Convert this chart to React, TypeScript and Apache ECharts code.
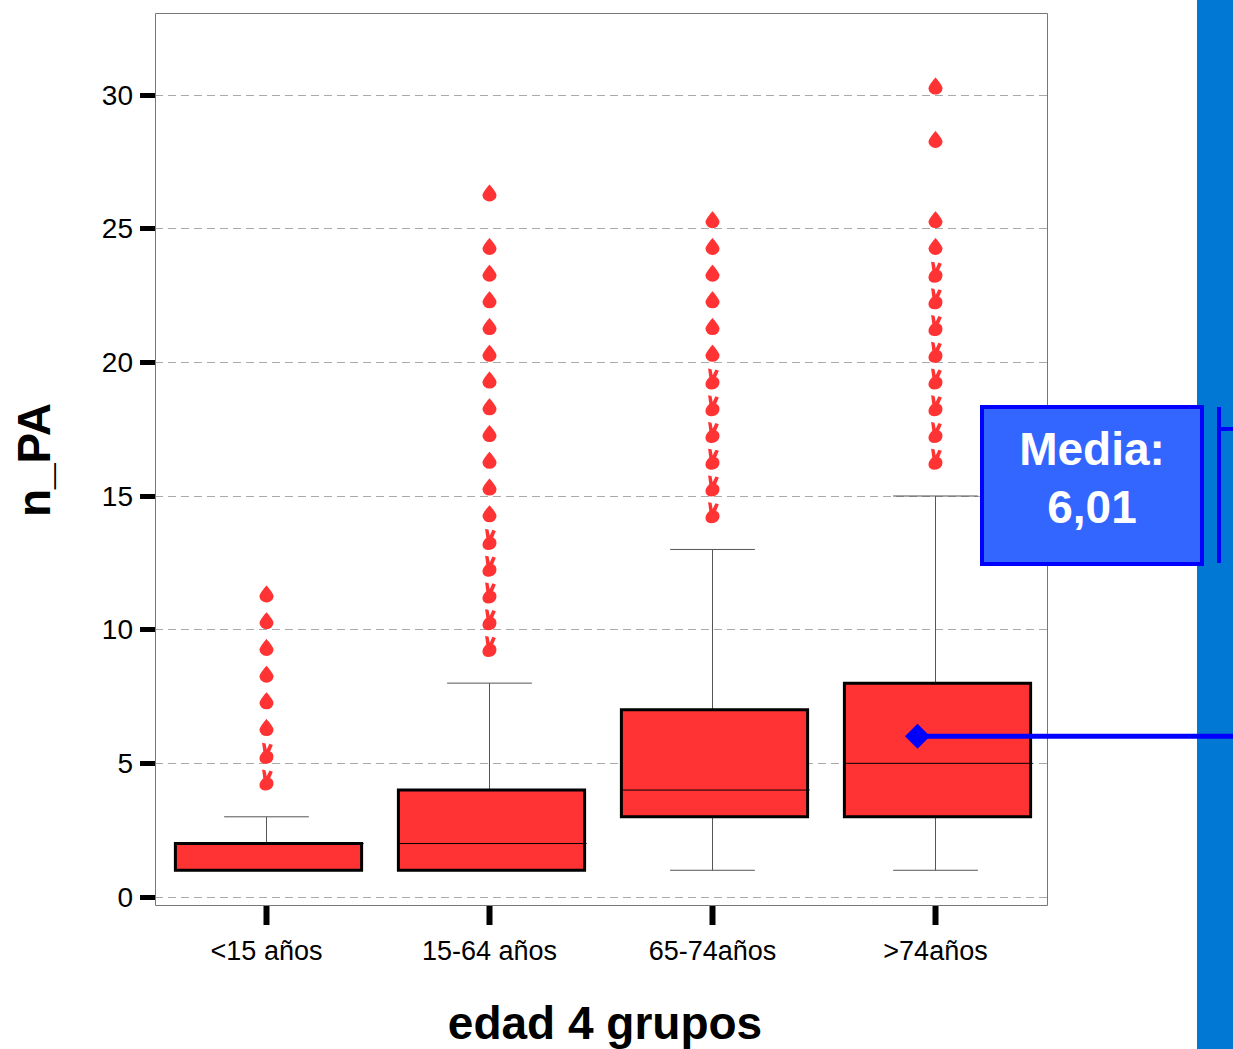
import React, { useEffect, useRef } from "react";
import * as echarts from "echarts";

const categories = ["<15 años", "15-64 años", "65-74años", ">74años"];
const whiskerLow = [1, 1, 1, 1];
const q1 = [1, 1, 3, 3];
const median = [2, 2, 4, 5];
const q3 = [2, 4, 7, 8];
const whiskerHigh = [3, 8, 13, 15];

// outliers drawn as drops (per category)
const dropOutliers = [
  [6, 7, 8, 9, 10, 11],
  [14, 15, 16, 17, 18, 19, 20, 21, 22, 23, 24, 26],
  [20, 21, 22, 23, 24, 25],
  [24, 25, 28, 30],
];
// outliers drawn as hand glyphs (per category)
const handOutliers = [
  [4, 5],
  [9, 10, 11, 12, 13],
  [14, 15, 16, 17, 18, 19],
  [16, 17, 18, 19, 20, 21, 22, 23],
];

const meanCategory = 3;
const meanValue = 6.01;
const meanLabel = "Media:\n6,01";

const yMin = 0;
const yMax = 30;
const yInterval = 5;

const xAxisTitle = "edad 4 grupos";
const yAxisTitle = "n_PA";

const FONT = 'Arial, "Liberation Sans", sans-serif';
const RED = "#FF3333";
const BLUE = "#0000FF";

const DROP =
  "path://M50,0 C50,0 100,60 100,85 A50,50 0 1 1 0,85 C0,60 50,0 50,0 Z";
const HAND =
  "path://M25,0 L45,4 L52,45 L68,6 L88,14 L72,58 C92,66 96,92 88,112 C80,132 62,140 42,140 C20,138 8,122 10,100 C12,84 20,70 32,58 Z";

export default function App() {
  const ref = useRef<HTMLDivElement>(null);

  useEffect(() => {
    if (!ref.current) return;
    const chart = echarts.init(ref.current, null, { renderer: "svg" });

    const boxData = categories.map((_, i) => [
      i,
      whiskerLow[i],
      q1[i],
      median[i],
      q3[i],
      whiskerHigh[i],
    ]);
    const dropData: number[][] = [];
    dropOutliers.forEach((arr, i) => arr.forEach((v) => dropData.push([i, v])));
    const handData: number[][] = [];
    handOutliers.forEach((arr, i) => arr.forEach((v) => handData.push([i, v])));

    chart.setOption({
      animation: false,
      backgroundColor: "#ffffff",
      grid: {
        left: 155,
        right: 186,
        top: 95,
        bottom: 152,
        containLabel: false,
        outerBoundsMode: "none",
      },
      xAxis: {
        type: "category",
        data: categories,
        offset: 9,
        boundaryGap: true,
        axisLine: { show: false },
        axisTick: { show: false },
        axisLabel: { margin: 31, fontSize: 27, color: "#000", fontFamily: FONT },
        splitLine: { show: false },
        name: xAxisTitle,
        nameLocation: "middle",
        nameGap: 94,
        nameTextStyle: {
          fontSize: 46,
          fontWeight: "bold",
          color: "#000",
          fontFamily: FONT,
          padding: [0, 0, 0, 8],
        },
      },
      yAxis: {
        type: "value",
        min: yMin,
        max: yMax,
        interval: yInterval,
        axisLine: { show: false },
        axisTick: {
          show: true,
          length: 15,
          lineStyle: { color: "#000", width: 5 },
        },
        axisLabel: {
          margin: 22,
          fontSize: 28,
          color: "#000",
          fontFamily: FONT,
          padding: [5, 0, 0, 0],
        },
        splitLine: {
          show: true,
          lineStyle: { color: "#aaaaaa", width: 1, type: [8, 5] },
        },
      },
      series: [
        {
          type: "custom",
          name: "box",
          data: boxData,
          encode: { x: 0, y: [1, 2, 3, 4, 5] },
          z: 3,
          renderItem: (params: any, api: any) => {
            const i = api.value(0);
            const band = api.size([1, 0])[0];
            const bw = band * 0.835;
            const cw = band * 0.38;
            const cx = api.coord([i, 0])[0];
            const y0 = api.coord([i, 0])[1];
            const bx = cx + 2;
            const yLo = api.coord([i, api.value(1)])[1];
            const yQ1 = api.coord([i, api.value(2)])[1];
            const yMed = api.coord([i, api.value(3)])[1];
            const yQ3 = api.coord([i, api.value(4)])[1];
            const yHi = api.coord([i, api.value(5)])[1];
            const wStyle = { stroke: "#555", lineWidth: 1 };
            return {
              type: "group",
              children: [
                // category tick below the frame
                {
                  type: "line",
                  shape: { x1: cx, y1: y0 + 9, x2: cx, y2: y0 + 28 },
                  style: { stroke: "#000", lineWidth: 6 },
                },
                { type: "line", shape: { x1: cx, y1: yQ1, x2: cx, y2: yLo }, style: wStyle },
                { type: "line", shape: { x1: cx - cw / 2, y1: yLo, x2: cx + cw / 2, y2: yLo }, style: wStyle },
                { type: "line", shape: { x1: cx, y1: yQ3, x2: cx, y2: yHi }, style: wStyle },
                { type: "line", shape: { x1: cx - cw / 2, y1: yHi, x2: cx + cw / 2, y2: yHi }, style: wStyle },
                {
                  type: "rect",
                  shape: { x: bx - bw / 2, y: yQ3, width: bw, height: yQ1 - yQ3 },
                  style: { fill: RED, stroke: "#000", lineWidth: 3 },
                },
                {
                  type: "line",
                  shape: { x1: bx - bw / 2, y1: yMed, x2: bx + bw / 2 + 2, y2: yMed },
                  style: { stroke: "#000", lineWidth: 1 },
                },
              ],
            };
          },
        },
        {
          type: "scatter",
          name: "outliers",
          data: dropData,
          symbol: DROP,
          symbolSize: [14, 17],
          symbolOffset: [0, -9],
          itemStyle: { color: RED, opacity: 1 },
          clip: false,
          z: 4,
        },
        {
          type: "scatter",
          name: "extremes",
          data: handData,
          symbol: HAND,
          symbolSize: [14, 21],
          symbolOffset: [0, -10],
          itemStyle: { color: RED, opacity: 1 },
          clip: false,
          z: 4,
        },
        {
          type: "scatter",
          name: "mean",
          data: [[meanCategory, meanValue]],
          symbol: "diamond",
          symbolSize: [25, 25],
          symbolOffset: [-18, 0],
          itemStyle: { color: BLUE, opacity: 1 },
          clip: false,
          z: 6,
        },
      ],
    });

    const p = chart.convertToPixel({ gridIndex: 0 }, [meanCategory, meanValue]) as number[];

    chart.setOption({
      graphic: [
        {
          type: "rect",
          id: "frame",
          z: 1,
          shape: { x: 155.5, y: 13.5, width: 892, height: 892 },
          style: { fill: "none", stroke: "#777", lineWidth: 1 },
          silent: true,
        },
        {
          type: "text",
          id: "yTitle",
          z: 2,
          x: 34,
          y: 460,
          rotation: Math.PI / 2,
          style: {
            text: yAxisTitle,
            fill: "#000",
            font: 'bold 46px Arial, "Liberation Sans", sans-serif',
            align: "center",
            verticalAlign: "middle",
          },
          silent: true,
        },
        {
          type: "rect",
          id: "band",
          z: 1,
          shape: { x: 1197, y: 0, width: 36, height: 1049 },
          style: { fill: "#0078D4" },
          silent: true,
        },
        {
          type: "line",
          id: "meanLine",
          z: 5,
          shape: { x1: p[0] - 18, y1: p[1], x2: 1233, y2: p[1] },
          style: { stroke: BLUE, lineWidth: 5 },
          silent: true,
        },
        {
          type: "rect",
          id: "annBox",
          z: 7,
          shape: { x: 982, y: 407, width: 220, height: 157 },
          style: { fill: "#3366FF", stroke: BLUE, lineWidth: 4 },
          silent: true,
        },
        {
          type: "text",
          id: "annText",
          z: 8,
          x: 1092,
          y: 478,
          style: {
            text: meanLabel,
            fill: "#fff",
            font: 'bold 46px Arial, "Liberation Sans", sans-serif',
            align: "center",
            verticalAlign: "middle",
            lineHeight: 58,
          },
          silent: true,
        },
        {
          type: "line",
          id: "bracketV",
          z: 7,
          shape: { x1: 1219, y1: 407, x2: 1219, y2: 563 },
          style: { stroke: BLUE, lineWidth: 4 },
          silent: true,
        },
        {
          type: "line",
          id: "bracketH",
          z: 7,
          shape: { x1: 1219, y1: 429, x2: 1233, y2: 429 },
          style: { stroke: BLUE, lineWidth: 4 },
          silent: true,
        },
      ],
    });

    return () => chart.dispose();
  }, []);

  return (
    <div
      ref={ref}
      style={{ position: "fixed", left: 0, top: 0, width: 1233, height: 1049 }}
    />
  );
}
